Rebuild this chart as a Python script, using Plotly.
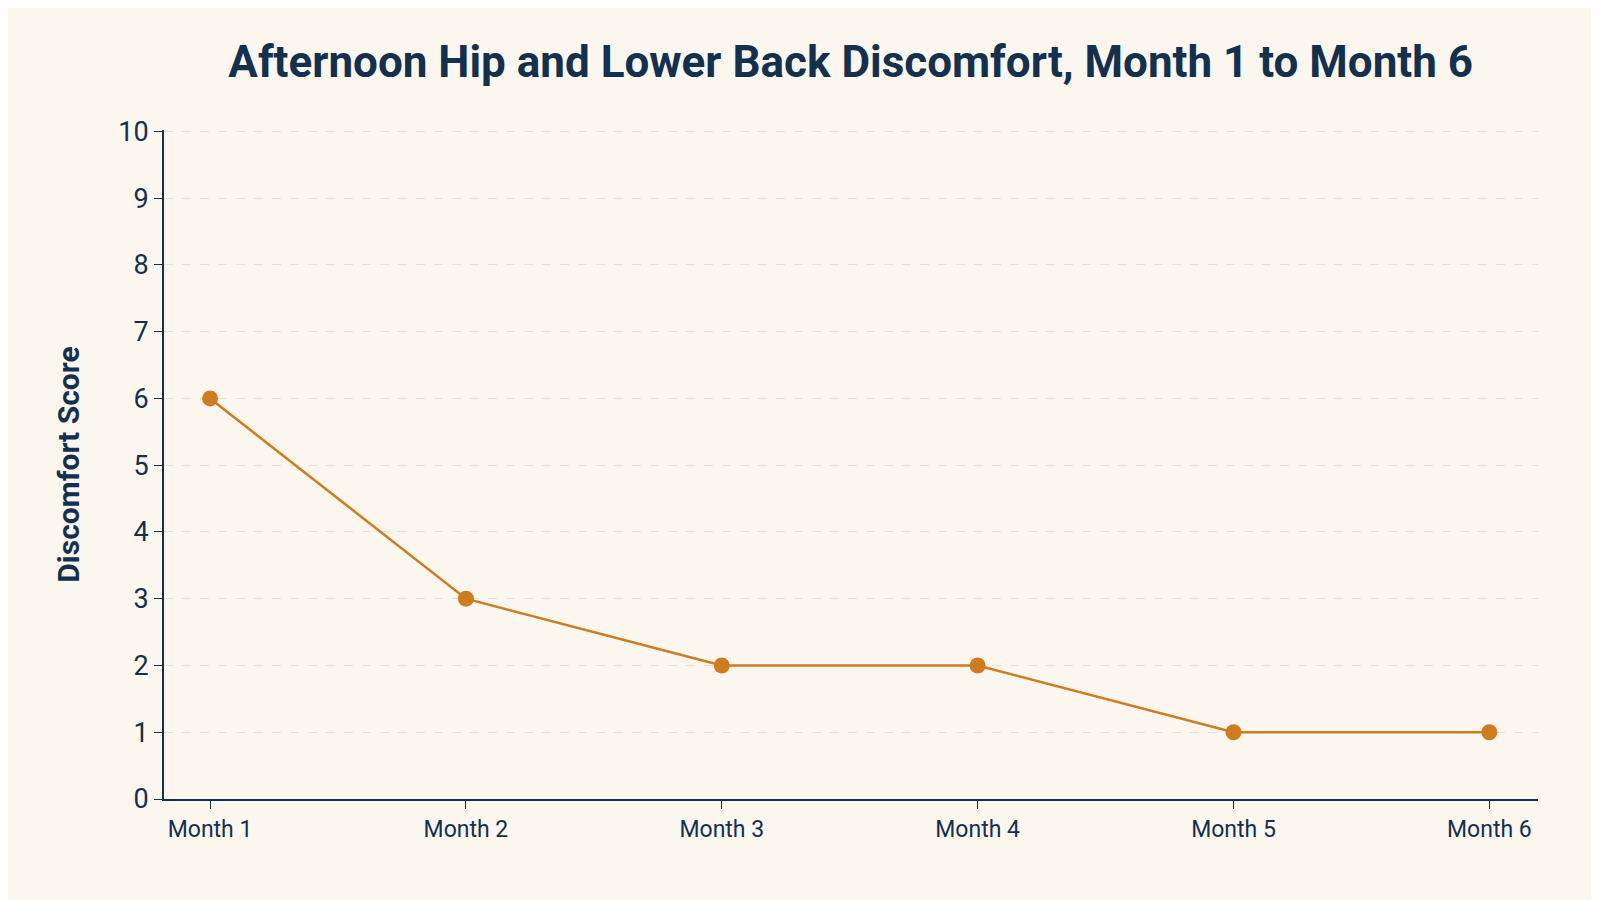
import plotly.graph_objects as go

months = ["Month 1", "Month 2", "Month 3", "Month 4", "Month 5", "Month 6"]
scores = [6, 3, 2, 2, 1, 1]

navy = "#14304F"
fig = go.Figure(go.Scatter(
    x=months, y=scores, mode="lines+markers",
    line=dict(color="#CF7C1E", width=2.5),
    marker=dict(color="#CF7C1E", size=16),
))
fig.update_layout(
    width=1599, height=900,
    paper_bgcolor="#FBF7EF", plot_bgcolor="#FBF7EF",
    margin=dict(l=156, r=69, t=122, b=109),
    title=dict(text="<b>Afternoon Hip and Lower Back Discomfort, Month 1 to Month 6</b>",
               x=0.527, xanchor="center", y=0.94, yanchor="middle",
               font=dict(family="Roboto", size=44, color=navy)),
    showlegend=False,
    font=dict(family="Roboto", color=navy),
)
fig.update_xaxes(type="category", range=[-0.18, 5.19], showgrid=False,
                 showline=True, linecolor=navy, linewidth=2,
                 ticks="outside", ticklen=8, tickcolor=navy,
                 tickfont=dict(size=23, color=navy))
fig.update_yaxes(range=[0, 10.02], dtick=1, showline=True, linecolor=navy, linewidth=2,
                 ticks="outside", ticklen=8, tickcolor=navy,
                 gridcolor="#E6E0D4", griddash="dash", zeroline=False,
                 tickfont=dict(size=27, color=navy),
                 title=dict(text="<b>Discomfort Score</b>", font=dict(size=30, color=navy), standoff=30))
fig.write_html("out.html")
